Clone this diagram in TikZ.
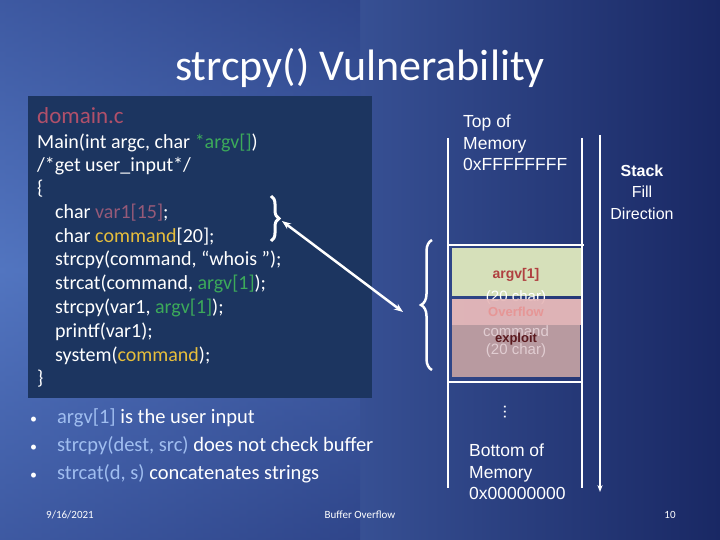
\documentclass[tikz,border=0pt]{standalone}
\usepackage{fontspec}
\setmainfont{Carlito}
\newfontfamily\arialf{Liberation Sans}
\usetikzlibrary{decorations.pathreplacing,arrows.meta}
\definecolor{codebg}{RGB}{28,53,96}
\definecolor{fname}{RGB}{176,80,106}
\definecolor{cgreen}{RGB}{60,170,90}
\definecolor{cyel}{RGB}{230,190,60}
\definecolor{cvar}{RGB}{150,90,120}
\definecolor{lblue}{RGB}{160,190,240}
\definecolor{gbox}{RGB}{214,224,186}
\definecolor{pbox}{RGB}{232,186,186}
\definecolor{mbox}{RGB}{184,154,160}
\tikzset{
 code/.style={anchor=west,text=white,font=\fontsize{20}{20}\selectfont,inner sep=0pt},
 ar/.style={text=white,font=\arialf\fontsize{17.5}{21.5}\selectfont,inner sep=0pt},
 wl/.style={white,line width=2.5pt},
 foot/.style={text=white,font=\fontsize{11}{11}\selectfont,inner sep=0pt},
 bul/.style={anchor=west,text=white,font=\fontsize{20.5}{20.5}\selectfont,inner sep=0pt}
}
\begin{document}
\begin{tikzpicture}[x=1pt,y=-1pt]
\useasboundingbox (0,0) rectangle (720,540);
\shade[left color={rgb,255:red,85;green,120;blue,195}, right color={rgb,255:red,25;green,40;blue,100}] (0,0) rectangle (720,540);
\shade[top color={rgb,255:red,40;green,60;blue,130},bottom color={rgb,255:red,40;green,60;blue,130},middle color={rgb,255:red,80;green,115;blue,190},opacity=0.5] (0,0) rectangle (360,540);
\node[text=white,font=\fontsize{44}{44}\selectfont,inner sep=0pt] (title) at (360,68) {strcpy() Vulnerability};
% code box
\fill[codebg] (28,96) rectangle (372,398);
\node[code,text=fname,font=\fontsize{23}{23}\selectfont] (fn) at (37,116) {domain.c};
\node[code] (l1) at (37,143) {Main(int argc, char \textcolor{cgreen}{*argv[]})};
\node[code] (l2) at (37,166) {/*get user\_input*/};
\node[code] (l3) at (37,189) {\{};
\node[code] (l4) at (55,213) {char \textcolor{cvar}{var1[15]};};
\node[code] (l5) at (55,237) {char \textcolor{cyel}{command}[20];};
\node[code] (l6) at (55,260) {strcpy(command, “whois ");};
\node[code] (l7) at (55,284) {strcat(command, \textcolor{cgreen}{argv[1]});};
\node[code] (l8) at (55,308) {strcpy(var1, \textcolor{cgreen}{argv[1]});};
\node[code] (l9) at (55,332) {printf(var1);};
\node[code] (l10) at (55,356) {system(\textcolor{cyel}{command});};
\node[code] (l11) at (37,379) {\}};
\draw[white,line width=3pt,decorate,decoration={brace,amplitude=8pt}] (271,196) -- (271,241);
\coordinate (b1) at (282,221);
% left brace near stack
\draw[white,line width=2.5pt,decorate,decoration={brace,amplitude=11pt}] (432,370) -- (432,240);
\coordinate (b2) at (403,312);
\draw[white,line width=2.5pt,{Stealth[length=9pt]}-{Stealth[length=9pt]}] (b1) -- (b2);
% stack
\fill[gbox] (452,248) rectangle (582,296);
\node[ar,text={rgb,255:red,176;green,64;blue,64},font=\arialf\bfseries\fontsize{14}{14}\selectfont] (a1) at (516,275) {argv[1]};
\node[ar,font=\arialf\fontsize{15}{15}\selectfont] (a2) at (516,298) {(20 char)};
\fill[mbox] (452,325) rectangle (580,377);
\fill[pbox,opacity=0.95] (452,299) rectangle (583,325);
\node[ar,text={rgb,255:red,230;green,150;blue,150},font=\arialf\bfseries\fontsize{13}{13}\selectfont] (ov) at (516,312) {Overflow};
\node[ar,text={rgb,255:red,225;green,205;blue,210},font=\arialf\fontsize{15}{15}\selectfont] (cm) at (516,331) {command};
\node[ar,text={rgb,255:red,225;green,205;blue,210},font=\arialf\fontsize{15}{15}\selectfont] (c2) at (516,351) {(20 char)};
\node[ar,text={rgb,255:red,90;green,25;blue,30},font=\arialf\bfseries\fontsize{13}{13}\selectfont] (ex) at (516,339) {exploit};
\draw[wl] (448,138) -- (448,488);
\draw[wl] (582,138) -- (582,488);
\draw[wl] (448,245) -- (584,245);
\draw[wl] (448,382) -- (582,382);
\coordinate (d1) at (600,135); \coordinate (d2) at (600,492);
\draw[white,line width=1.2pt,-{Stealth[length=7pt]}] (d1) -- (d2);
\node[ar,align=left,anchor=north west] (top) at (463,115) {Top of\\Memory\\0xFFFFFFFF};
\node[ar,align=left,anchor=north west] (bot) at (469,444) {Bottom of\\Memory\\0x00000000};
\node[ar,align=center,font=\arialf\fontsize{16}{21.5}\selectfont] (sf) at (642,192) {\textbf{Stack}\\Fill\\Direction};
\node[ar,rotate=90] (dots) at (505,412) {...};
% bullets
\node[bul] (k1) at (30,418) {{\fontsize{14}{14}\selectfont•}\hspace{20pt}\textcolor{lblue}{argv[1]} is the user input};
\node[bul] (k2) at (30,446) {{\fontsize{14}{14}\selectfont•}\hspace{20pt}\textcolor{lblue}{strcpy(dest, src)} does not check buffer};
\node[bul] (k3) at (30,474) {{\fontsize{14}{14}\selectfont•}\hspace{20pt}\textcolor{lblue}{strcat(d, s)} concatenates strings};
\node[foot] (f1) at (70,515) {9/16/2021};
\node[foot] (f2) at (360,515) {Buffer Overflow};
\node[foot] (f3) at (670,515) {10};
\end{tikzpicture}
\end{document}
